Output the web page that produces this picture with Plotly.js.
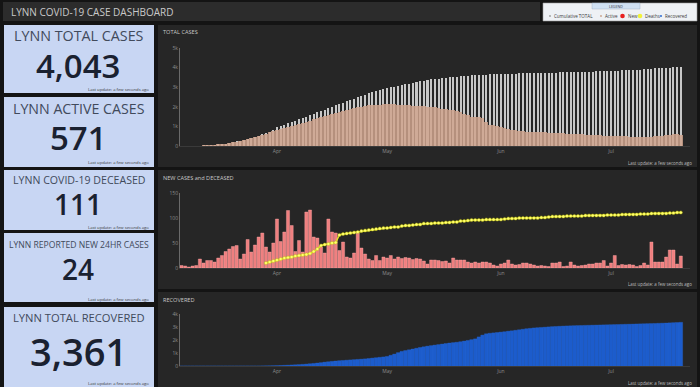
<!DOCTYPE html>
<html>
<head>
<meta charset="utf-8">
<script src="https://cdn.plot.ly/plotly-3.0.1.min.js"></script>
<style>
html,body{margin:0;padding:0;background:#141414;}
#chart{width:700px;height:387px;}
</style>
</head>
<body>
<div id="chart"></div>
<script>
// ---------------- DATA ----------------
const startDate = '2020-03-06';   // first reported day (daily series through 2020-07-20)
const monthTicks = ['Apr', 'May', 'Jun', 'Jul'];

const kpiTitles = ['LYNN TOTAL CASES', 'LYNN ACTIVE CASES', 'LYNN COVID-19 DECEASED', 'LYNN REPORTED NEW 24HR CASES', 'LYNN TOTAL RECOVERED'];
const kpiValues = ['4,043', '571', '111', '24', '3,361'];

const legendItems = ['Cumulative TOTAL', 'Active', 'New', 'Deaths', 'Recovered'];

const totalCases = [
  5,7,9,12,16,22,30,40,52,66,80,100,125,155,190,230,270,310,360,410,460,520,590,660,740,820,
  960,1020,1090,1170,1240,1290,1360,1410,1500,1580,1650,1720,1790,1860,1950,2010,2080,2140,2210,2290,2360,2420,2490,2560,2620,2680,2740,2790,2840,2890,
  2950,2990,3030,3070,3110,3150,3185,3225,3270,3305,3335,3370,3395,3420,3440,3465,3480,3500,3520,3540,3555,3570,3585,3600,3612,3620,3630,3642,3650,3656,3662,
  3670,3676,3682,3690,3694,3700,3706,3712,3716,3722,3728,3732,3738,3742,3746,3750,3756,3762,3766,3770,3776,3782,3786,3790,3796,3800,3806,3812,3818,3826,
  3830,3846,3852,3860,3868,3874,3880,3888,3898,3904,3910,3920,3966,3976,3984,3990,4000,4018,4036,4043
];

const activeCases = [
  5,7,9,12,16,22,30,40,52,66,80,100,124,153,187,226,264,302,350,398,446,503,570,636,712,788,
  800,850,900,960,1010,1050,1100,1150,1210,1300,1370,1420,1480,1530,1600,1650,1700,1750,1800,1850,1890,1930,1970,2010,2050,2070,2090,2100,2110,2120,
  2130,2125,2120,2110,2100,2085,2070,2060,2050,2045,2030,2015,2000,1980,1950,1900,1870,1850,1820,1800,1750,1650,1560,1500,1480,1470,1450,1250,1080,1050,1020,
  980,930,880,830,800,780,760,740,730,720,710,700,690,680,668,660,650,640,630,620,610,600,590,580,572,562,555,545,535,527,
  520,512,503,496,490,482,474,466,460,455,458,466,500,518,528,540,556,588,600,571
];

const newCases = [
  5,4,2,4,5,18,10,15,15,12,20,25,33,38,43,45,18,28,57,32,46,62,70,42,32,50,
  98,53,72,115,85,33,55,32,112,116,62,60,42,30,98,72,70,35,52,22,20,30,70,40,28,18,15,25,15,22,20,25,18,22,19,21,20,17,19,
  18,14,8,16,16,15,13,14,10,20,16,16,16,12,10,12,10,12,12,10,
  6,4,8,10,16,8,6,7,10,10,8,6,4,5,4,3,10,10,12,3,
  4,12,6,4,5,6,8,8,10,10,15,4,10,25,5,7,6,7,6,3,
  5,10,6,52,12,12,12,22,36,36,8,24
];

const deaths = [
  null,null,null,null,null,null,null,null,null,null,null,null,null,null,null,null,null,null,null,null,null,null,null,
  10,12,14,16,18,20,21,22,24,25,26,27,
  29,33,38,45,47,48,50,51,
  66,68,69,70,71,72,74,75,76,77,78,79,80,
  80,81,82,82,84,85,85,86,87,
  87,89,89,89,90,90,90,91,91,92,92,94,94,95,96,96,96,96,97,97,97,97,
  97,98,99,99,99,100,100,100,100,100,100,101,101,102,103,103,103,103,104,104,104,104,104,105,105,105,105,105,105,106,
  106,106,106,107,107,107,107,107,108,108,108,109,109,109,109,109,110,110,111,111
];

const recovered = [
  0,0,0,0,0,0,0,0,0,0,0,0,0,0,0,0,0,0,0,0,0,0,5,10,15,22,
  30,42,55,68,82,96,110,130,150,175,200,230,260,300,330,360,385,410,430,450,470,490,510,530,550,580,610,640,670,700,
  740,830,920,1030,1130,1190,1250,1310,1370,1430,1480,1530,1570,1610,1650,1690,1730,1770,1800,1830,1870,1920,1970,2030,2090,2240,2380,2480,2520,2550,2580,
  2610,2640,2680,2710,2750,2790,2830,2870,2900,2930,2950,2970,2990,3010,3030,3045,3060,3072,3084,3094,3104,3112,3120,3128,3136,3144,3150,3158,3165,3172,
  3180,3188,3196,3204,3212,3220,3228,3236,3244,3252,3260,3268,3276,3286,3296,3308,3320,3334,3346,3361
];

// ---------------- BUILD ----------------
const DAY = 86400000;
const dates = [];
{
  const d0 = new Date(startDate + 'T00:00:00Z');
  for (let i = 0; i < totalCases.length; i++) {
    const d = new Date(d0.getTime() + i * DAY);
    dates.push(d.toISOString().slice(0, 10));
  }
}

const W = 700, H = 387;
const X = p => p / W;
const Y = p => 1 - p / H;
const FONT = 'Open Sans, Noto Sans, sans-serif';

const xRange = ['2020-03-05 14:00', '2020-07-22 12:00'];
const xDomain = [X(180), X(690)];
const tickFont = {family: FONT, size: 5, color: '#8c8c8c'};

function xAxis(anchor) {
  return {
    domain: xDomain, anchor: anchor, type: 'date', range: xRange,
    tickformat: '%b', dtick: 'M1', tick0: '2020-04-01',
    ticks: '', showgrid: false, zeroline: false,
    showline: true, linecolor: '#3a3a3a', linewidth: 1,
    tickfont: tickFont, fixedrange: true
  };
}
function yAxis(anchor, domain, range, dtick, fmt) {
  return {
    domain: domain, anchor: anchor, range: range, dtick: dtick, tickformat: fmt,
    ticks: '', showgrid: false, zeroline: false,
    showline: true, linecolor: '#6a6a6a', linewidth: 1,
    tickfont: tickFont, fixedrange: true
  };
}

const traces = [
  {type: 'bar', x: dates, y: totalCases, xaxis: 'x', yaxis: 'y', name: legendItems[0],
   width: 0.55 * DAY, marker: {color: '#c8c8c8'}, hoverinfo: 'x+y'},
  {type: 'bar', x: dates, y: activeCases, xaxis: 'x', yaxis: 'y', name: legendItems[1],
   width: 1.0 * DAY, marker: {color: 'rgba(208,164,142,0.84)'}, hoverinfo: 'x+y'},
  {type: 'bar', x: dates, y: newCases, xaxis: 'x2', yaxis: 'y2', name: legendItems[2],
   width: 0.85 * DAY, marker: {color: '#ef7f7f', line: {color: '#ffaaaa', width: 0.4}}, hoverinfo: 'x+y'},
  {type: 'scatter', mode: 'lines+markers', x: dates, y: deaths, xaxis: 'x2', yaxis: 'y2', name: legendItems[3],
   line: {color: '#e3e32a', width: 1.5}, marker: {color: '#ffff70', size: 3.2, line: {color: '#b8b800', width: 0.4}},
   connectgaps: false, hoverinfo: 'x+y'},
  {type: 'bar', x: dates, y: recovered, xaxis: 'x3', yaxis: 'y3', name: legendItems[4],
   width: 1.0 * DAY, marker: {color: '#1c5ccc', line: {color: '#2a68d6', width: 0.3}}, hoverinfo: 'x+y'}
];

// panels
const shapes = [];
function rect(x0, y0, x1, y1, fill, line) {
  shapes.push({type: 'rect', xref: 'paper', yref: 'paper', layer: 'below',
    x0: X(x0), x1: X(x1), y0: Y(y1), y1: Y(y0), fillcolor: fill,
    line: line || {width: 0}});
}
rect(3, 2, 540, 21, '#2c2c2c');
rect(158, 25, 697, 167, '#262626');
rect(158, 170, 697, 289, '#262626');
rect(158, 292, 697, 387, '#262626');
const kpiBoxes = [[25, 93], [97, 167], [170, 230], [233, 302], [307, 390]];
kpiBoxes.forEach(b => rect(4, b[0], 154, b[1], '#c8d6f3'));
// legend box
rect(543, 3, 697, 21, '#eef1f5', {color: '#9a9a9a', width: 0.6});
rect(592, 3, 640, 9, '#cfe0f3', {color: '#9ab', width: 0.4});

const annotations = [];
function txt(text, x, y, size, color, xanchor, extra) {
  annotations.push(Object.assign({
    text: text, xref: 'paper', yref: 'paper', x: X(x), y: Y(y),
    xanchor: xanchor || 'left', yanchor: 'middle', showarrow: false,
    font: {family: FONT, size: size, color: color}
  }, extra || {}));
}
// header
txt('LYNN COVID-19 CASE DASHBOARD', 9, 12, 10, '#c9c9c9');
// legend
txt('LEGEND', 616, 6, 3.6, '#334', 'center');
const legX = [552, 603, 626, 643, 663];
legendItems.forEach((t, i) => txt(t, legX[i], 16, 4.5, '#3a3a3a'));
// legend markers
function dot(cx, cy, r, fill) {
  shapes.push({type: 'circle', xref: 'paper', yref: 'paper', layer: 'above',
    x0: X(cx - r), x1: X(cx + r), y0: Y(cy + r), y1: Y(cy - r), fillcolor: fill, line: {width: 0}});
}
dot(550, 16, 0.9, '#9a9a9a');
dot(601, 16, 0.9, '#c8a08a');
dot(622.5, 16, 2.3, '#e82020');
dot(640, 16, 2.3, '#f2f23a');
dot(661, 16, 0.9, '#1c5ccc');

// KPI texts
const kpiTitleY = [36, 108, 180, 245, 317];
const kpiTitleSize = [14.3, 14.2, 10.6, 8.6, 11.2];
const kpiValY = [65, 137, 204, 269, 351];
const kpiValSize = [33, 33, 28, 28, 38];
const kpiUpdY = [90, 163, 227, 299, 383];
kpiTitles.forEach((t, i) => {
  txt(t, 79, kpiTitleY[i], kpiTitleSize[i], '#414a5b', 'center');
  annotations.push({
    text: kpiValues[i], xref: 'paper', yref: 'paper', x: X(78), y: Y(kpiValY[i]),
    xanchor: 'center', yanchor: 'middle', showarrow: false,
    font: {family: FONT, size: kpiValSize[i], color: '#1a2130', weight: 600}
  });
  txt('Last update: a few seconds ago', 151, kpiUpdY[i], 4.2, '#3a3a3a', 'right');
});

// chart panel titles and update notes
txt('TOTAL CASES', 161, 32, 5.6, '#c8c8c8');
txt('NEW CASES and DECEASED', 161, 178, 5.6, '#c8c8c8');
txt('RECOVERED', 161, 300, 5.6, '#c8c8c8');
txt('Last update: a few seconds ago', 694, 163, 4.4, '#bdbdbd', 'right');
txt('Last update: a few seconds ago', 694, 284, 4.4, '#bdbdbd', 'right');
txt('Last update: a few seconds ago', 694, 383, 4.4, '#bdbdbd', 'right');

const layout = {
  width: W, height: H,
  margin: {l: 0, r: 0, t: 0, b: 0, pad: 0},
  paper_bgcolor: '#141414', plot_bgcolor: '#262626',
  showlegend: false, barmode: 'overlay', bargap: 0,
  font: {family: FONT},
  xaxis: xAxis('y'),
  yaxis: yAxis('x', [Y(146), Y(48)], [0, 5000], 1000, '~s'),
  xaxis2: xAxis('y2'),
  yaxis2: yAxis('x2', [Y(268), Y(193)], [0, 150], 50, ''),
  xaxis3: xAxis('y3'),
  yaxis3: yAxis('x3', [Y(366), Y(314)], [0, 4000], 1000, '~s'),
  shapes: shapes,
  annotations: annotations
};

Plotly.newPlot('chart', traces, layout, {displayModeBar: false, staticPlot: true});
</script>
</body>
</html>
